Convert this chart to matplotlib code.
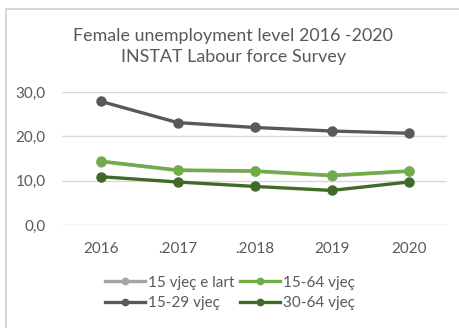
import matplotlib.pyplot as plt
from matplotlib.patches import Rectangle

years = ["2016", ".2017", ".2018", "2019", "2020"]
age_15_plus = [14.3, 12.3, 12.1, 11.1, 12.1]
age_15_64 = [14.4, 12.4, 12.2, 11.2, 12.2]
age_15_29 = [27.9, 23.1, 22.0, 21.2, 20.7]
age_30_64 = [10.9, 9.7, 8.7, 7.8, 9.7]

plt.rcParams['font.family'] = ['Lato', 'DejaVu Sans']
text_color = '#595959'

fig = plt.figure(figsize=(4.6, 3.28), dpi=100)
fig.patches.append(Rectangle((6 / 460, -0.1), 1.1, 1.1 - 9 / 328, transform=fig.transFigure,
                             facecolor='white', edgecolor='#d0d0d0', linewidth=1.2, zorder=-5))

ax = fig.add_axes([0.135, 0.314, 0.837, 0.4055])
x = range(len(years))
style = dict(linewidth=2.4, marker='o', markersize=6.5)
l29, = ax.plot(x, age_15_29, color='#595959', label='15-29 vjeç', **style)
l15, = ax.plot(x, age_15_plus, color='#a5a5a5', label='15 vjeç e lart', **style)
l64, = ax.plot(x, age_15_64, color='#70ad47', label='15-64 vjeç', **style)
l30, = ax.plot(x, age_30_64, color='#3f6b27', label='30-64 vjeç', **style)

ax.set_xlim(-0.5, len(years) - 0.5)
ax.set_ylim(0, 30)
ax.set_yticks([0, 10, 20, 30])
ax.set_yticklabels(["0,0", "10,0", "20,0", "30,0"])
ax.set_xticks(list(x))
ax.set_xticklabels(years)
ax.grid(axis='y', color='#d9d9d9', linewidth=1)
ax.set_axisbelow(True)
for s in ax.spines.values():
    s.set_visible(False)
ax.tick_params(length=0, labelsize=11, labelcolor=text_color)
ax.tick_params(axis='x', pad=12)
ax.tick_params(axis='y', pad=12)
ax.set_facecolor('none')

fig.text(0.507, 1 - 36 / 328, "Female unemployment level 2016 -2020", ha='center', va='center',
         fontsize=12.9, color=text_color)
fig.text(0.507, 1 - 57 / 328, "INSTAT Labour force Survey", ha='center', va='center',
         fontsize=12.9, color=text_color)

fig.legend(handles=[l15, l29, l64, l30], ncol=2, loc='center', bbox_to_anchor=(0.5, 1 - 293 / 328),
           frameon=False, fontsize=11, labelcolor=text_color, handlelength=2.6, handletextpad=0.2,
           columnspacing=0.4, labelspacing=0.45, borderpad=0, markerscale=0.7)

fig.savefig("out.png", dpi=100)
